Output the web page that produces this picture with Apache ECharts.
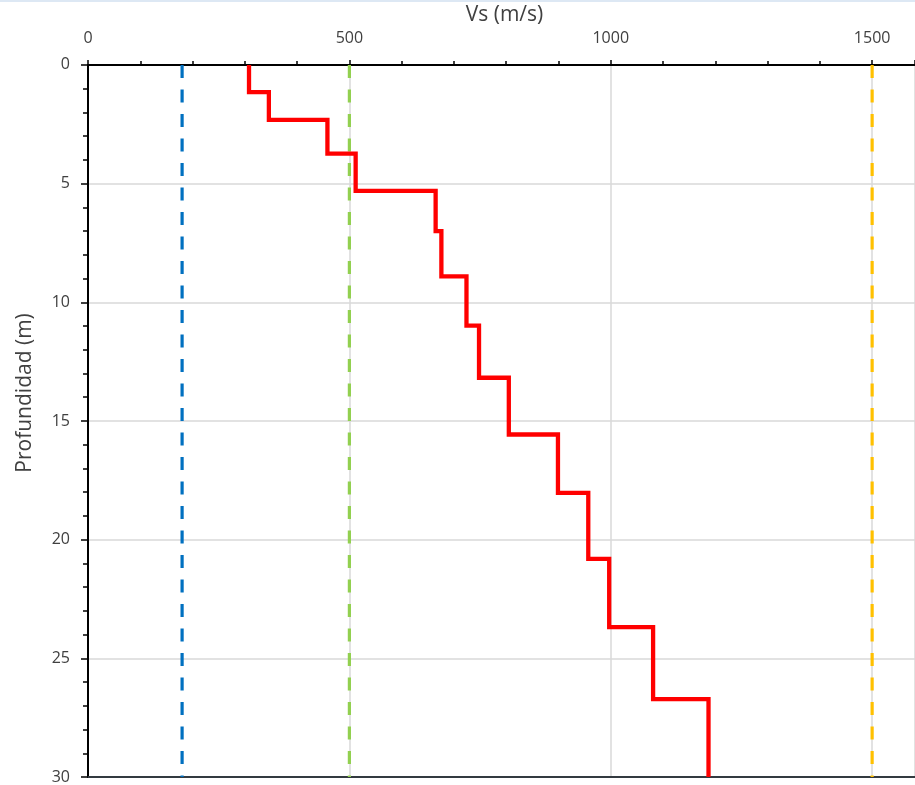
<!DOCTYPE html>
<html>
<head>
<meta charset="utf-8">
<script src="https://cdn.jsdelivr.net/npm/echarts@6/dist/echarts.min.js"></script>
<style>
html,body{margin:0;padding:0;background:#fff;}
#chart{width:915px;height:785px;}
</style>
</head>
<body>
<div id="chart"></div>
<script>
// Vs profile: layer boundaries (depth, m) and layer velocities (m/s)
const layerDepths = [0, 1.15, 2.32, 3.74, 5.31, 7.0, 8.91, 10.98, 13.18, 15.57, 18.03, 20.81, 23.69, 26.72, 30];
const layerVs = [308, 346, 458, 512, 665, 676, 724, 748, 805, 899, 957, 997, 1081, 1187];
// Reference velocity lines (m/s)
const refVs = [180, 500, 1500];
const refColors = ['#0070c0', '#92d050', '#ffc000'];
const depthRange = [0, 30];
const vsRange = [0, 1582];
const xTicks = [0, 500, 1000, 1500];

// Build step profile points from the layer arrays
const profile = [];
for (let i = 0; i < layerVs.length; i++) {
  profile.push([layerVs[i], layerDepths[i]]);
  profile.push([layerVs[i], layerDepths[i + 1]]);
}

const textColor = '#404040';
const font = 'Open Sans';

const series = [];
refVs.forEach((v, i) => {
  series.push({
    type: 'line',
    data: [[v, depthRange[0]], [v, depthRange[1]]],
    symbol: 'none',
    lineStyle: { color: refColors[i], width: 3.2, type: [13, 11.5], cap: 'butt' },
    z: 3,
    silent: true
  });
});
series.push({
  type: 'line',
  data: profile,
  symbol: 'none',
  lineStyle: { color: '#ff0000', width: 4.3, join: 'miter' },
  z: 5,
  silent: true
});

const chart = echarts.init(document.getElementById('chart'), null, { renderer: 'canvas' });
chart.setOption({
  animation: false,
  backgroundColor: '#fff',
  graphic: [{
    type: 'rect',
    shape: { x: 0, y: 0, width: 915, height: 2 },
    style: { fill: '#dde8f4' },
    silent: true
  }],
  grid: { left: 88, top: 63, right: 0, height: 714, containLabel: false },
  xAxis: [{
    type: 'value',
    position: 'top',
    min: vsRange[0], max: vsRange[1], interval: 500,
    name: 'Vs (m/s)',
    nameLocation: 'middle',
    nameGap: 33,
    nameTextStyle: { color: textColor, fontSize: 21, fontFamily: font, padding: [0, 0, 0, 6] },
    axisLine: { show: true, onZero: false, lineStyle: { color: '#000', width: 2 } },
    axisTick: { show: true, length: 5, lineStyle: { color: '#000', width: 1.5 } },
    minorTick: { show: true, splitNumber: 5, length: 4, lineStyle: { color: '#000', width: 1.5 } },
    axisLabel: {
      color: textColor, fontSize: 16, fontFamily: font, margin: 18,
      showMaxLabel: false,
      formatter: v => xTicks.includes(v) ? String(v) : ''
    },
    splitLine: { show: true, lineStyle: { color: '#d9d9d9', width: 1.5 } }
  }, {
    type: 'value',
    position: 'bottom',
    min: vsRange[0], max: vsRange[1], interval: 500,
    axisLine: { show: true, onZero: false, lineStyle: { color: '#333a40', width: 2 } },
    axisTick: { show: false },
    axisLabel: { show: false },
    splitLine: { show: false }
  }],
  yAxis: {
    type: 'value',
    inverse: true,
    min: depthRange[0], max: depthRange[1], interval: 5,
    name: 'Profundidad (m)',
    nameLocation: 'middle',
    nameGap: 52,
    nameRotate: 90,
    nameTextStyle: { color: textColor, fontSize: 21, fontFamily: font, padding: [0, 0, 0, 56] },
    axisLine: { show: true, onZero: false, lineStyle: { color: '#000', width: 2 } },
    axisTick: { show: true, length: 7, lineStyle: { color: '#000', width: 1.5 } },
    minorTick: { show: true, splitNumber: 5, length: 5, lineStyle: { color: '#000', width: 1.5 } },
    axisLabel: { color: textColor, fontSize: 16, fontFamily: font, margin: 18 },
    splitLine: { show: true, lineStyle: { color: '#d9d9d9', width: 1.5 } }
  },
  series: series
});
</script>
</body>
</html>
